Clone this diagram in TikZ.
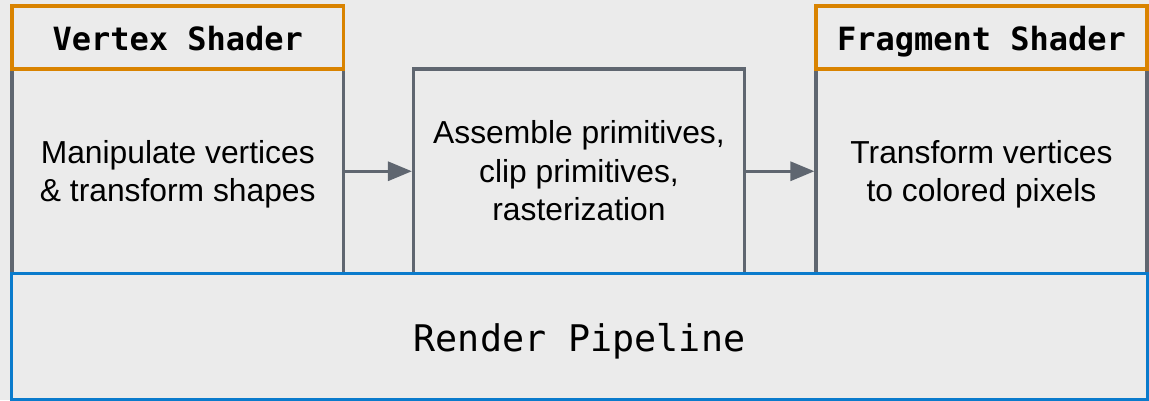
\documentclass[tikz,border=0pt]{standalone}
\usepackage{fontspec}
\setmainfont{Liberation Sans}
\newfontfamily\monofont{DejaVu Sans Mono}
\usetikzlibrary{arrows.meta}
\definecolor{bgc}{HTML}{EBEBEB}
\definecolor{grayc}{HTML}{5F6670}
\definecolor{orangec}{HTML}{D98300}
\definecolor{bluec}{HTML}{0A7BCC}
\begin{document}
\begin{tikzpicture}[x=1pt,y=-1pt,
  stagebox/.style={draw=grayc, line width=3.2pt, fill=bgc, inner sep=0pt, outer sep=0pt, anchor=north west, minimum height=204.5pt},
  headbox/.style={draw=orangec, line width=3.5pt, fill=bgc, inner sep=0pt, outer sep=0pt, anchor=north west, minimum height=63pt,
    font=\monofont\bfseries\fontsize{32}{36}\selectfont, text height=25pt, text depth=0pt},
  pipebox/.style={draw=bluec, line width=3.5pt, fill=bgc, inner sep=0pt, outer sep=0pt, anchor=north west,
    font=\monofont\fontsize{36.7}{40}\selectfont, text height=29.8pt, text depth=0pt},
  bodytext/.style={font=\fontsize{31.8}{38.4}\selectfont, align=center, inner sep=0pt, yshift=-3.3pt},
  flow/.style={draw=grayc, line width=3.2pt, -{Triangle[length=24pt,width=19pt]}, shorten <=1.6pt, shorten >=1.6pt}
]
\fill[bgc] (0,0) rectangle (1149,400);
\useasboundingbox (0,0) rectangle (1149,400);

\node[stagebox, minimum width=331.5pt] (vbody) at (12,69) {};
\node[stagebox, minimum width=331pt] (mid) at (413.5,69) {};
\node[stagebox, minimum width=331pt] (fbody) at (816,69) {};

\node[headbox, minimum width=331.5pt] (vhead) at (12,6) {Vertex Shader};
\node[headbox, minimum width=331pt] (fhead) at (816,6) {Fragment Shader};

\node[pipebox, minimum width=1136pt, minimum height=126pt] (pipe) at (11.5,273.5) {Render Pipeline};

\node[bodytext] (vtext) at (vbody.center) {\strut Manipulate vertices\\\strut \& transform shapes};
\node[bodytext] (mtext) at (mid.center) {\strut Assemble primitives,\\\strut clip primitives,\\\strut rasterization};
\node[bodytext] (ftext) at (fbody.center) {\strut Transform vertices\\\strut to colored pixels};

\draw[flow] (vbody.east) -- (mid.west);
\draw[flow] (mid.east) -- (fbody.west);
\end{tikzpicture}
\end{document}
